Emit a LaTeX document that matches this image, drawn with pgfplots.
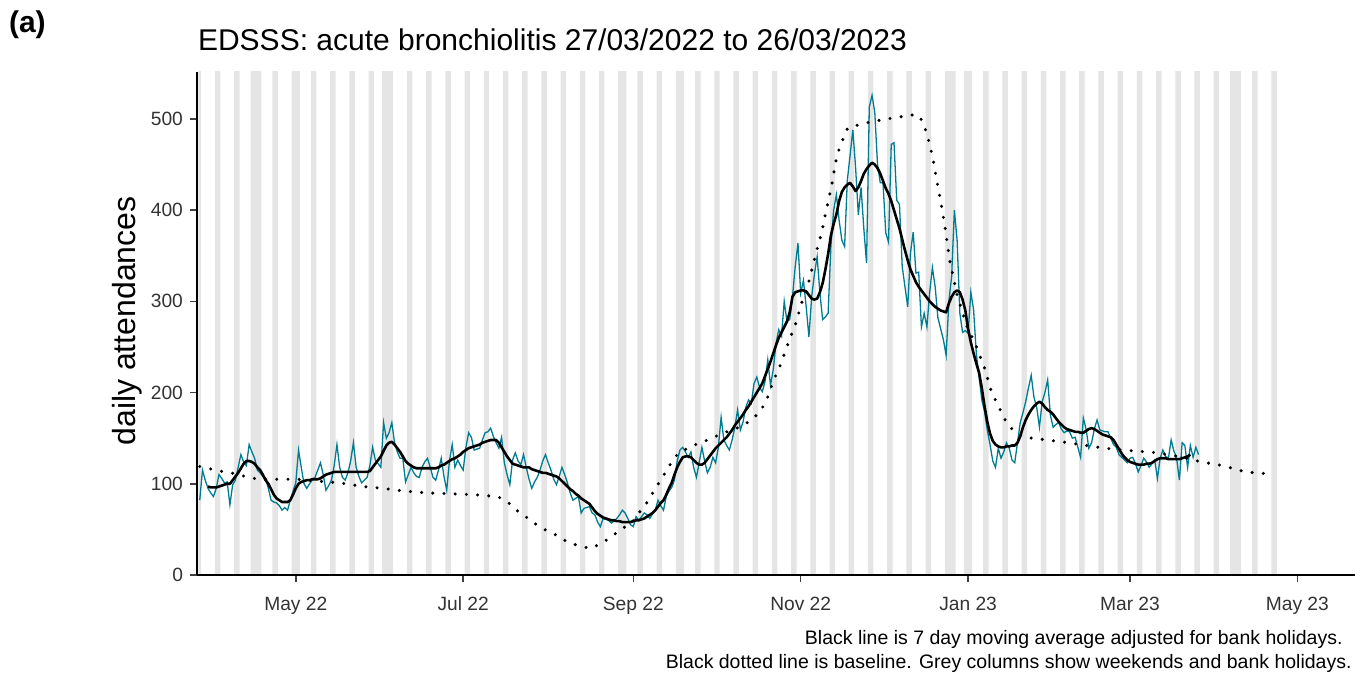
\documentclass[border=0pt]{standalone}
\usepackage{fontspec}
\setmainfont{Liberation Sans}
\usepackage{pgfplots}
\pgfplotsset{compat=1.18}
\usepackage{pgfplotstable}

\definecolor{edteal}{RGB}{0,124,145}
\definecolor{colgrey}{RGB}{229,229,229}

% day 0 = 27/03/2022; daily attendances and 7 day moving average
\pgfplotstableread{
d v ma
0 82 nan
1 115 nan
2 104 nan
3 95 97
4 90 96
5 86 96
6 95 96
7 110 97
8 106 98
9 101 99
10 102 100
11 77 100
12 99 104
13 104 108
14 118 112
15 132 117
16 124 122
17 120 125
18 143 125
19 135 124
20 128 122
21 115 118
22 112 115
23 108 110
24 106 104
25 95 100
26 82 94
27 80 88
28 79 84
29 76 82
30 71 80
31 74 80
32 71 80
33 82 82
34 92 88
35 101 95
36 137 100
37 118 102
38 100 103
39 95 104
40 100 104
41 104 105
42 107 105
43 115 105
44 123 106
45 110 108
46 93 110
47 98 111
48 104 112
49 120 113
50 143 113
51 118 113
52 107 113
53 104 113
54 112 113
55 125 113
56 145 113
57 118 113
58 108 113
59 101 113
60 104 113
61 107 113
62 120 114
63 140 118
64 126 122
65 122 126
66 118 130
67 167 136
68 150 142
69 156 145
70 167 146
71 145 143
72 135 139
73 128 135
74 128 130
75 102 125
76 110 122
77 118 120
78 112 118
79 108 117
80 107 117
81 118 117
82 124 117
83 128 117
84 118 117
85 107 117
86 104 117
87 115 118
88 128 120
89 108 121
90 93 123
91 125 125
92 143 127
93 118 128
94 126 130
95 120 132
96 115 135
97 140 137
98 156 139
99 151 140
100 137 141
101 138 142
102 139 143
103 148 145
104 156 146
105 157 147
106 161 148
107 152 148
108 145 148
109 139 145
110 151 140
111 123 135
112 110 130
113 99 126
114 126 122
115 134 121
116 125 120
117 121 119
118 132 118
119 118 118
120 105 118
121 95 116
122 102 115
123 107 114
124 115 113
125 125 112
126 132 112
127 123 111
128 115 110
129 105 109
130 99 108
131 108 106
132 118 103
133 110 100
134 101 97
135 90 94
136 82 92
137 84 89
138 86 87
139 68 84
140 73 82
141 74 80
142 75 78
143 68 74
144 66 70
145 58 67
146 53 65
147 62 63
148 61 62
149 60 61
150 57 60
151 59 60
152 62 59
153 66 59
154 71 58
155 68 58
156 62 58
157 55 58
158 53 59
159 64 60
160 60 60
161 64 61
162 68 62
163 66 64
164 62 66
165 67 68
166 71 71
167 82 75
168 76 79
169 71 82
170 86 88
171 92 95
172 96 101
173 104 110
174 125 118
175 137 124
176 140 129
177 135 130
178 129 130
179 135 129
180 118 126
181 107 123
182 123 121
183 140 121
184 125 123
185 112 127
186 118 131
187 129 135
188 123 139
189 140 142
190 173 145
191 148 148
192 142 151
193 137 155
194 148 159
195 162 164
196 181 168
197 159 172
198 168 176
199 184 181
200 192 185
201 188 190
202 210 195
203 217 200
204 206 205
205 201 210
206 212 218
207 236 226
208 208 234
209 225 243
210 254 252
211 269 260
212 262 266
213 300 272
214 278 278
215 280 288
216 305 305
217 338 310
218 364 311
219 309 312
220 323 312
221 294 311
222 261 307
223 305 303
224 330 302
225 349 303
226 309 310
227 280 320
228 283 335
229 287 352
230 360 372
231 400 385
232 417 395
233 389 410
234 367 420
235 360 425
236 433 428
237 460 430
238 488 426
239 447 421
240 395 425
241 425 432
242 380 440
243 342 445
244 513 449
245 526 452
246 507 450
247 450 446
248 430 440
249 430 432
250 375 424
251 365 418
252 472 410
253 474 400
254 411 390
255 406 380
256 338 368
257 316 356
258 294 345
259 353 335
260 376 328
261 331 321
262 332 316
263 272 312
264 287 308
265 272 304
266 310 300
267 337 297
268 316 294
269 282 292
270 270 290
271 258 289
272 241 288
273 300 298
274 327 305
275 400 310
276 367 312
277 287 310
278 266 302
279 268 290
280 265 270
281 310 255
282 291 243
283 243 232
284 217 222
285 192 205
286 179 185
287 159 168
288 143 155
289 125 147
290 118 143
291 139 141
292 128 140
293 135 140
294 145 141
295 139 141
296 126 142
297 123 142
298 145 145
299 167 152
300 178 162
301 190 170
302 205 176
303 219 181
304 195 185
305 184 188
306 162 190
307 190 188
308 200 184
309 214 181
310 175 179
311 162 176
312 165 172
313 167 168
314 160 165
315 156 162
316 158 160
317 157 159
318 150 158
319 151 157
320 140 157
321 129 156
322 172 156
323 160 158
324 139 160
325 145 161
326 160 160
327 170 158
328 159 156
329 158 154
330 157 153
331 157 152
332 150 151
333 143 148
334 140 143
335 132 138
336 129 133
337 126 129
338 123 126
339 128 124
340 129 123
341 122 122
342 113 121
343 120 121
344 128 121
345 124 122
346 118 122
347 122 123
348 126 125
349 106 127
350 128 128
351 137 128
352 130 128
353 128 127
354 148 127
355 136 127
356 128 127
357 104 127
358 145 128
359 142 129
360 118 130
361 142 132
362 129 nan
363 140 nan
364 132 nan
}\daily

% baseline
\pgfplotstableread{
d b
0 119
3 117
7.3 114
11.3 112
15.3 109
19.3 106
23.7 105
35.4 105
46.7 102
51 101
59.4 97
66.7 95
74.7 92
83 90
91.8 89
100.2 88
108.6 86
112.2 80
115.5 71
119.2 63
122.8 55
126.8 48
130.4 43
134.1 36
138.1 32
142.5 29
146.5 35
150.1 42
153.4 50
157.4 57
160 68
162.5 77
164.7 88
166.9 99
169.4 111
171.6 122
174.2 133
177.8 139
181.4 144
185.1 148
189.5 154
193.8 159
197.5 163
201.5 171
204.4 180
206.6 192
209.5 216
211.3 228
214.2 252
217.2 276
219.7 302
222.2 324
224.4 351
226.6 375
228.4 401
230.3 427
231.7 452
232.8 465
234.3 477
236.1 490
240.5 494
244.8 497
248.5 499
252.5 501
256.9 503
260.9 505
262.5 502
263.4 496
264.9 485
266 472
267.1 458
268.5 434
270 410
271.4 385
273.3 345
275.1 320
275.8 309
279.4 274
283.1 250
286 227
288.5 201
292.2 178
294 167
296.9 157
300.6 151
309 148
316.6 145
325 141
332.6 138
340.6 136
348.7 134
356.7 130
365 124
372.7 120
381 113
389.1 111
}\base

\begin{document}
\begin{tikzpicture}
\begin{axis}[
  name=ax,
  scale only axis,
  width=579pt, height=251.5pt,
  xmin=-1, xmax=421, ymin=0, ymax=551.5,
  axis on top,
  axis x line*=bottom, axis y line*=left,
  axis line style={line width=1pt, black},
  xtick={35,96,158,219,280,339,400},
  xticklabels={May 22,Jul 22,Sep 22,Nov 22,Jan 23,Mar 23,May 23},
  ytick={0,100,200,300,400,500},
  tick align=outside, major tick length=3.5pt,
  tick style={line width=0.8pt, black!75},
  tick label style={font=\fontsize{9.6}{11}\selectfont, text=black!80},
  xticklabel style={yshift=-4pt},
  /pgf/number format/assume math mode=true,
]
% weekends and bank holidays
\addplot[ybar, bar width=1, bar shift=0pt, fill=colgrey, draw=none] coordinates {
(0,600)(6,600)(7,600)(13,600)(14,600)(19,600)(20,600)(21,600)(22,600)
(27,600)(28,600)(34,600)(35,600)(36,600)(41,600)(42,600)(48,600)(49,600)
(55,600)(56,600)(62,600)(63,600)(67,600)(68,600)(69,600)(70,600)
(76,600)(77,600)(83,600)(84,600)(90,600)(91,600)(97,600)(98,600)
(104,600)(105,600)(111,600)(112,600)(118,600)(119,600)(125,600)(126,600)
(132,600)(133,600)(139,600)(140,600)(146,600)(147,600)(153,600)(154,600)(155,600)
(160,600)(161,600)(167,600)(168,600)(174,600)(175,600)(176,600)
(181,600)(182,600)(188,600)(189,600)(195,600)(196,600)(202,600)(203,600)
(209,600)(210,600)(216,600)(217,600)(223,600)(224,600)(230,600)(231,600)
(237,600)(238,600)(244,600)(245,600)(251,600)(252,600)(258,600)(259,600)
(265,600)(266,600)(272,600)(273,600)(274,600)(275,600)(279,600)(280,600)(281,600)
(286,600)(287,600)(293,600)(294,600)(300,600)(301,600)(307,600)(308,600)
(314,600)(315,600)(321,600)(322,600)(328,600)(329,600)(335,600)(336,600)
(342,600)(343,600)(349,600)(350,600)(356,600)(357,600)(363,600)(364,600)
(370,600)(371,600)(376,600)(377,600)(378,600)(379,600)
(384,600)(385,600)(391,600)(392,600)
};
\addplot[edteal, line width=0.65pt] table[x=d, y=v] {\daily};
\addplot[black, line width=1.3pt, line join=round] table[x=d, y=ma] {\daily};
\addplot[black, line width=1.7pt, line cap=round, dash pattern=on 0pt off 5.6pt] table[x=d, y=b] {\base};
\end{axis}

\node[anchor=base west, font=\fontsize{15}{18}\selectfont] at ([shift={(-3pt,262pt)}]ax.south west)
  {EDSSS: acute bronchiolitis 27/03/2022 to 26/03/2023};
\node[anchor=base west, font=\bfseries\fontsize{15}{18}\selectfont] at ([shift={(-97.5pt,271pt)}]ax.south west) {(a)};
\node[rotate=90, font=\fontsize{16}{19}\selectfont] at ([shift={(-35pt,127pt)}]ax.south west) {daily attendances};
\node[anchor=base east, inner sep=0pt, font=\fontsize{9.75}{11}\selectfont] at ([shift={(573pt,-35pt)}]ax.south west)
  {Black line is 7 day moving average adjusted for bank holidays.};
\node[anchor=base east, inner sep=0pt, font=\fontsize{9.75}{11}\selectfont] at ([shift={(577.5pt,-47pt)}]ax.south west)
  {Black dotted line is baseline. Grey columns show weekends and bank holidays.};

\pgfresetboundingbox
\path ([shift={(-98.5pt,-49.5pt)}]ax.south west) rectangle ([shift={(580pt,287.5pt)}]ax.south west);
\end{tikzpicture}
\end{document}
